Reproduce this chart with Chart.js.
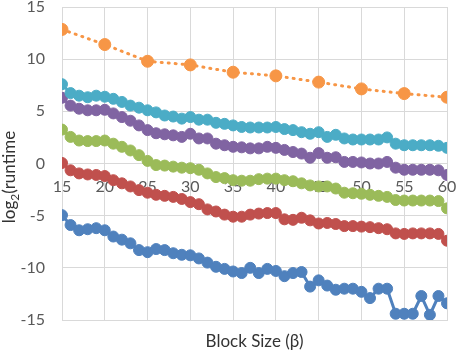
<!DOCTYPE html>
<html>
<head>
<meta charset="utf-8">
<title>Runtime vs block size</title>
<script src="https://cdn.jsdelivr.net/npm/chart.js"></script>
<style>
  html, body { margin: 0; padding: 0; background: #fff; }
</style>
</head>
<body>
<canvas id="runtimeChart" width="456" height="355"></canvas>

<script>
  // block sizes (x) and log2(runtime) values
  const blockSizes = [15, 16, 17, 18, 19, 20, 21, 22, 23, 24, 25, 26, 27, 28, 29, 30,
    31, 32, 33, 34, 35, 36, 37, 38, 39, 40, 41, 42, 43, 44, 45,
    46, 47, 48, 49, 50, 51, 52, 53, 54, 55, 56, 57, 58, 59, 60];
  const orangeSizes = [15, 20, 25, 30, 35, 40, 45, 50, 55, 60];

  const orangeValues = [12.85, 11.4, 9.8, 9.45, 8.75, 8.4, 7.8, 7.15, 6.7, 6.35];
  const cyanValues = [7.6, 6.75, 6.5, 6.35, 6.5, 6.4, 6.2, 5.9, 5.55, 5.35, 5.1, 4.9, 4.6, 4.5, 4.3, 4.45,
    4.2, 4.2, 3.9, 3.8, 3.65, 3.5, 3.45, 3.45, 3.45, 3.5, 3.3, 3.2, 3.0, 2.85, 3.0,
    2.55, 2.75, 2.4, 2.3, 2.3, 2.3, 2.3, 2.5, 1.9, 1.75, 1.75, 1.75, 1.75, 1.7, 1.5];
  const purpleValues = [6.3, 5.55, 5.25, 5.1, 5.1, 5.15, 4.8, 4.45, 4.1, 3.65, 3.2, 2.9, 2.8, 2.7, 2.55, 2.85,
    2.4, 2.4, 1.9, 1.75, 1.6, 1.55, 1.45, 1.45, 1.6, 1.5, 1.3, 1.1, 0.95, 0.55, 1.0,
    0.55, 0.6, 0.15, 0.15, 0.1, 0.0, 0.0, 0.15, -0.4, -0.6, -0.6, -0.6, -0.6, -0.65, -1.1];
  const greenValues = [3.25, 2.55, 2.2, 2.15, 2.15, 2.2, 1.9, 1.6, 1.25, 0.8, 0.25, -0.15, -0.2, -0.3, -0.4, -0.45,
    -0.6, -0.95, -1.3, -1.4, -1.6, -1.65, -1.65, -1.5, -1.45, -1.45, -1.6, -1.7, -1.9, -2.1, -2.2,
    -2.2, -2.4, -2.8, -2.85, -2.9, -3.0, -3.1, -3.2, -3.5, -3.55, -3.55, -3.55, -3.55, -3.6, -4.3];
  const redValues = [0.05, -0.65, -0.95, -1.05, -1.1, -1.2, -1.6, -1.9, -2.2, -2.55, -2.8, -3.0, -3.1, -3.2, -3.4, -3.7,
    -3.9, -4.4, -4.6, -4.9, -5.1, -5.1, -4.9, -4.8, -4.75, -4.75, -5.35, -5.4, -5.2, -5.45, -5.75,
    -5.7, -5.8, -6.0, -6.0, -6.05, -6.1, -6.2, -6.3, -6.7, -6.75, -6.7, -6.7, -6.7, -6.75, -7.4];
  const blueValues = [-4.95, -5.9, -6.4, -6.3, -6.2, -6.4, -7.0, -7.3, -7.65, -8.3, -8.5, -8.2, -8.3, -8.6, -8.75, -8.8,
    -9.1, -9.5, -9.9, -10.1, -10.35, -10.5, -10.0, -10.5, -10.1, -10.3, -10.8, -10.5, -10.4, -11.8, -11.2,
    -11.7, -12.1, -12.0, -12.0, -12.3, -12.9, -12.0, -12.0, -14.4, -14.4, -14.4, -12.7, -14.5, -12.7, -13.4];

  const xTitle = 'Block Size (β)';
  const yTitleParts = ['log', '2', '(runtime'];

  const gridColor = '#D9D9D9';
  const tickColor = '#595959';
  const titleColor = '#333333';
  const fontFamily = 'Lato, "Open Sans", sans-serif';

  const toPoints = (xs, ys) => xs.map((x, i) => ({ x, y: ys[i] }));

  const lineStyle = color => ({
    borderColor: color,
    backgroundColor: color,
    pointBackgroundColor: color,
    pointBorderColor: color,
    pointRadius: 5.5,
    pointHoverRadius: 5.5,
    pointBorderWidth: 1,
    borderWidth: 3,
    tension: 0
  });

  // y title with a real subscript, placed a bit below the plot centre like the original
  const yTitlePlugin = {
    id: 'yTitle',
    afterDraw(chart) {
      const ctx = chart.ctx;
      const big = '17px ' + fontFamily;
      const small = '12px ' + fontFamily;
      ctx.save();
      ctx.translate(10, 177);
      ctx.rotate(-Math.PI / 2);
      ctx.fillStyle = titleColor;
      ctx.textBaseline = 'middle';
      ctx.textAlign = 'left';
      ctx.font = big;
      const w1 = ctx.measureText(yTitleParts[0]).width;
      const w3 = ctx.measureText(yTitleParts[2]).width;
      ctx.font = small;
      const w2 = ctx.measureText(yTitleParts[1]).width;
      let x = -(w1 + w2 + w3) / 2;
      ctx.font = big;
      ctx.fillText(yTitleParts[0], x, 0);
      x += w1;
      ctx.font = small;
      ctx.fillText(yTitleParts[1], x, 5);
      x += w2;
      ctx.font = big;
      ctx.fillText(yTitleParts[2], x, 0);
      ctx.restore();
    }
  };

  const noSidePadding = s => { s.paddingLeft = 0; s.paddingRight = 0; };

  new Chart(document.getElementById('runtimeChart'), {
    type: 'line',
    data: {
      datasets: [
        { ...lineStyle('#F79646'), data: toPoints(orangeSizes, orangeValues), borderDash: [1, 6], borderCapStyle: 'round', pointRadius: 6 },
        { ...lineStyle('#4BACC6'), data: toPoints(blockSizes, cyanValues) },
        { ...lineStyle('#8064A2'), data: toPoints(blockSizes, purpleValues) },
        { ...lineStyle('#9BBB59'), data: toPoints(blockSizes, greenValues) },
        { ...lineStyle('#C0504D'), data: toPoints(blockSizes, redValues) },
        { ...lineStyle('#4F81BD'), data: toPoints(blockSizes, blueValues) }
      ]
    },
    options: {
      responsive: false,
      animation: false,
      layout: { padding: { top: 0, right: 9, bottom: 0, left: 0 } },
      plugins: {
        legend: { display: false },
        tooltip: { enabled: false }
      },
      scales: {
        x: {
          type: 'linear',
          position: 'bottom',
          min: 15,
          max: 60,
          ticks: { display: false, stepSize: 5 },
          grid: { color: gridColor, drawTicks: false },
          border: { color: gridColor },
          title: {
            display: true,
            text: xTitle,
            color: titleColor,
            font: { family: fontFamily, size: 17 },
            padding: { top: 0, bottom: 3 }
          },
          afterFit: s => { s.height = 35; noSidePadding(s); }
        },
        x2: {
          type: 'linear',
          axis: 'x',
          position: { y: 0 },
          min: 15,
          max: 60,
          ticks: { stepSize: 5, color: tickColor, font: { family: fontFamily, size: 16 }, padding: 14 },
          grid: { display: false, drawTicks: false },
          border: { color: gridColor },
          afterFit: noSidePadding
        },
        y: {
          min: -15,
          max: 15,
          ticks: { stepSize: 5, color: tickColor, font: { family: fontFamily, size: 16 }, padding: 17 },
          grid: { color: gridColor, drawTicks: false },
          border: { color: gridColor },
          afterFit: s => { s.width = 62; s.paddingTop = 6; }
        }
      }
    },
    plugins: [yTitlePlugin]
  });
</script>
</body>
</html>
